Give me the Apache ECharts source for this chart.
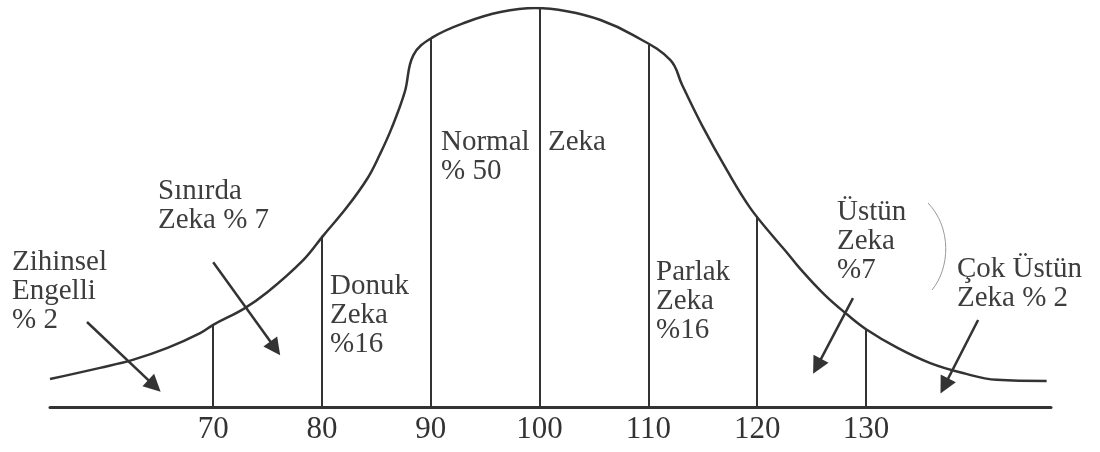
<!DOCTYPE html>
<html>
<head>
<meta charset="utf-8">
<script src="https://cdn.jsdelivr.net/npm/echarts@6/dist/echarts.min.js"></script>
<style>html,body{margin:0;padding:0;background:#fff}#c{width:1100px;height:452px}</style>
</head>
<body>
<div id="c"></div>
<script>
// IQ values along the curve and relative height of the curve (peak = 100)
const curveIQ = [55, 59.6, 62.6, 65.8, 68.8, 70, 72.8, 75.0, 78.2, 80.1, 82.3, 84.2, 85.3, 86.4, 87.6, 88.4,
  90.2, 93.3, 96.4, 99.6, 102.5, 105.6, 108.6, 112.0, 113.1, 115.0, 117.2, 119.3, 121.5, 122.7, 123.9,
  126.2, 128.3, 130, 132.9, 135.9, 138.9, 142.0, 146.6];
const curveHeight = [7.0, 9.8, 11.8, 14.8, 18.5, 20.6, 24.6, 28.8, 36.6, 42.9, 50.1, 57.4, 63.2, 69.9, 78.9, 88.2,
  92.7, 96.5, 99.0, 100, 99.2, 97.0, 93.2, 87.0, 80.7, 70.2, 59.4, 50.1, 42.6, 38.8, 34.8,
  28.1, 23.1, 19.5, 14.8, 11.0, 8.5, 6.8, 6.5];
// boundary IQ scores and the curve height where each boundary meets it
const boundaries = [70, 80, 90, 100, 110, 120, 130];
const boundaryHeight = [20.6, 42.9, 92.2, 100, 90.7, 47.9, 19.5];
const tickLabels = [70, 80, 90, 100, 110, 120, 130];

const chart = echarts.init(document.getElementById('c'));
const ink = '#333';
const txt = '#3d3d3d';
const font = '"Liberation Serif", "Times New Roman", serif';
function label(x, y, text) {
  return { type: 'text', x: x, y: y, silent: true,
    style: { text: text, fill: txt, fontSize: 29, fontFamily: font, lineHeight: 29, verticalAlign: 'top', align: 'left' } };
}
const arrowLine = (a, b) => [{ coord: a }, { coord: b }];

chart.setOption({
  animation: false,
  backgroundColor: '#fff',
  grid: { left: 50, right: 49, top: 8, bottom: 45 },
  xAxis: {
    type: 'value', min: 55, max: 147,
    axisLine: { show: true, onZero: true, lineStyle: { color: ink, width: 3 } },
    axisTick: { show: false },
    splitLine: { show: false },
    axisLabel: { customValues: tickLabels, fontFamily: font, fontSize: 31, color: ink, margin: 7 }
  },
  yAxis: { type: 'value', min: 0, max: 100, show: false },
  series: [
    {
      type: 'line',
      data: curveIQ.map((x, i) => [x, curveHeight[i]]),
      smooth: 0.4,
      symbol: 'none',
      lineStyle: { color: ink, width: 2.5 },
      markLine: {
        silent: true, symbol: ['none', 'none'], label: { show: false },
        lineStyle: { color: ink, width: 2, type: 'solid' },
        data: boundaries.map((b, i) => [{ coord: [b, 0] }, { coord: [b, boundaryHeight[i]] }])
      }
    },
    {
      type: 'line', data: [], symbol: 'none',
      markLine: {
        silent: true, symbol: ['none', 'triangle'], symbolSize: 17, label: { show: false },
        lineStyle: { color: ink, width: 2.5, type: 'solid' },
        itemStyle: { color: ink },
        data: [
          arrowLine([58.4, 21.3], [64.6, 5.3]),
          arrowLine([70.0, 36.3], [75.7, 14.7]),
          arrowLine([128.8, 27.3], [125.5, 10.2]),
          arrowLine([140.3, 21.8], [137.2, 5.3])
        ]
      }
    }
  ],
  graphic: [
    label(12, 248, 'Zihinsel\nEngelli\n% 2'),
    label(158, 177, 'Sınırda\nZeka % 7'),
    label(330, 272, 'Donuk\nZeka\n%16'),
    label(441, 128, 'Normal\n% 50'),
    label(548, 128, 'Zeka'),
    label(656, 258, 'Parlak\nZeka\n%16'),
    label(837, 198, 'Üstün\nZeka\n%7'),
    label(957, 255, 'Çok Üstün\nZeka % 2'),
    { type: 'bezierCurve', silent: true,
      shape: { x1: 928, y1: 203, cpx1: 952, cpy1: 228, cpx2: 950, cpy2: 268, x2: 932, y2: 290 },
      style: { stroke: '#9a9a9a', lineWidth: 1, fill: null } }
  ]
});
</script>
</body>
</html>
